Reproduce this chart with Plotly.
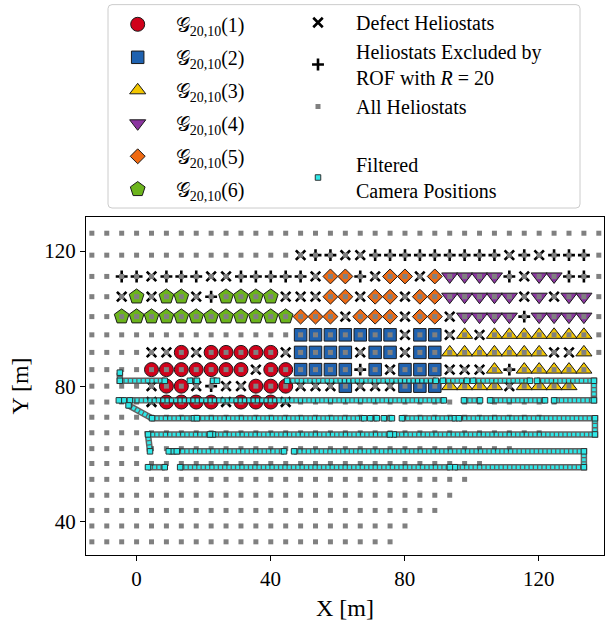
import plotly.graph_objects as go

# Heliostat field grid: column east positions [m] and row north positions [m]
col_x = [-13.35, -8.90, -4.45, 0.00, 4.45, 8.90, 13.35, 17.80, 22.25, 26.70,
         31.15, 35.60, 40.05, 44.50, 48.95, 53.40, 57.85, 62.30, 66.75, 71.20,
         75.65, 80.10, 84.55, 89.00, 93.45, 97.90, 102.35, 106.80, 111.25, 115.70,
         120.15, 124.60, 129.05, 133.50, 137.95]
row_y = [125.3, 118.8, 112.5, 106.5, 100.6, 95.2, 90.0, 84.9, 80.0, 75.3,
         70.8, 66.2, 61.5, 57.1, 52.4, 47.7, 43.2, 38.6, 33.9]
# number of heliostats in each row (counted from the western edge)
row_len = [35, 35, 35, 35, 35, 35, 35, 34, 33, 32, 31, 31, 29, 27, 26, 25, 24, 22, 21]

# members as (row index, column indices)
group1 = [(6, [6, 8, 9, 10, 11, 12]), (7, [4, 5, 6, 7, 8, 9, 10, 12, 13]),
          (8, [5, 6, 11, 12, 13]), (9, [5, 6, 7, 8, 10, 11, 12])]
group2 = [(5, [14, 15, 16, 17, 18, 19, 20, 22, 23]), (6, [14, 15, 16, 17, 19, 20, 22, 23]),
          (7, [14, 15, 16, 17, 19, 21, 22, 23]), (8, [17, 21, 22, 23])]
group3 = [(5, [25, 27, 28, 29, 30, 31, 32, 33]), (6, [24, 25, 26, 27, 28, 29, 30, 33]),
          (7, [27, 29, 30, 31, 32, 33]), (8, [24, 25, 26, 27, 29, 30, 31, 32])]
group4 = [(2, [24, 25, 26, 27, 30, 31]), (3, [24, 25, 26, 27, 28, 30, 32, 33]),
          (4, [25, 26, 27, 28, 30, 31, 32, 33])]
group5 = [(2, [16, 17, 20, 21, 23]), (3, [16, 17, 19, 20, 22, 23]),
          (4, [14, 15, 16, 18, 19, 20, 22, 23])]
group6 = [(3, [3, 5, 6, 9, 10, 11, 12]), (4, [2, 3, 4, 5, 6, 7, 8, 9, 10, 11, 12, 13])]
defect = [(1, [14, 17, 18, 28, 30]), (2, [4, 8, 9, 15, 19, 22, 29]),
          (3, [2, 4, 7, 13, 14, 15, 18, 21, 29, 31]), (4, [17, 21, 24]), (5, [21, 24, 26]),
          (6, [4, 5, 7, 13, 18, 21, 31, 32]), (7, [11, 20, 24, 25, 26]),
          (8, [4, 7, 9, 10, 14, 15, 16, 18, 19, 20, 28]), (9, [4, 9, 13])]
excluded = [(1, [15, 16, 19, 20, 21, 22, 23, 24, 25, 26, 27, 29, 31, 32, 33]),
            (2, [2, 3, 5, 6, 7, 10, 11, 12, 13, 14, 18, 28, 32, 33]),
            (3, [8]), (4, [29]), (7, [18, 28]), (8, [8])]

# filtered camera positions along the flight path (None = filtered gap)
cam_x = [-5.0, -5.0, 8.4, None, 15.9, 18.0, None, 22.8, 24.0, None,
         44.9, 89.3, None, 91.4, 98.6, None, 100.4, 117.4, None,
         119.5, 136.5, 136.5, 124.6, None, 121.9, 105.5, None, 102.5, 97.7, None,
         91.7, -2.0, None, -3.8, -5.3, None,
         -2.4, 4.6, 17.1, None, 18.0, 67.9, None, 69.7, 71.7, None, 73.8, 76.2, None,
         79.2, 95.0, None, 96.2, 136.8, 136.8, 76.8, None, 75.6, 22.8, None,
         21.9, 3.4, 4.0, None, 9.6, 11.1, None, 12.0, 44.0, None,
         47.0, 133.5, 133.5, 95.0, None, 93.5, 13.0, None, 8.4, 3.4]
cam_y = [84.0, 81.6, 81.6, None, 81.6, 81.6, None, 81.6, 81.6, None,
         81.6, 81.6, None, 81.6, 81.6, None, 81.6, 81.6, None,
         81.6, 81.6, 75.8, 75.8, None, 75.8, 75.8, None, 75.8, 75.8, None,
         75.8, 75.8, None, 75.8, 75.8, None,
         74.3, 70.5, 70.5, None, 70.5, 70.5, None, 70.5, 70.5, None, 70.5, 70.5, None,
         70.5, 70.5, None, 70.5, 70.5, 65.7, 65.7, None, 65.7, 65.7, None,
         65.7, 65.7, 60.7, None, 60.7, 60.7, None, 60.7, 60.7, None,
         60.7, 60.7, 56.0, 56.0, None, 56.0, 56.0, None, 56.0, 56.0]

group_names = ["𝒢<sub>20,10</sub>(1)", "𝒢<sub>20,10</sub>(2)", "𝒢<sub>20,10</sub>(3)",
               "𝒢<sub>20,10</sub>(4)", "𝒢<sub>20,10</sub>(5)", "𝒢<sub>20,10</sub>(6)"]
group_colors = ["#d0021b", "#1f62b0", "#f2c600", "#8b36a0", "#ef6a12", "#6cb41c"]
group_symbols = ["circle", "square", "triangle-up", "triangle-down", "diamond", "pentagon"]
group_sizes = [14, 12.5, 14, 14, 11.5, 15.5]

FONT = "Liberation Serif"


def positions(members):
    xs, ys = [], []
    for r, cols in members:
        for c in cols:
            xs.append(col_x[c])
            ys.append(row_y[r])
    return xs, ys


fig = go.Figure()

for i, members in enumerate([group1, group2, group3, group4, group5, group6]):
    gx, gy = positions(members)
    fig.add_trace(go.Scatter(
        x=gx, y=gy, mode="markers", name=group_names[i],
        legend="legend", legendgroup=f"g{i}",
        marker=dict(symbol=group_symbols[i], size=group_sizes[i], color=group_colors[i],
                    line=dict(color="#1a1a1a", width=1)),
    ))

dx, dy = positions(defect)
fig.add_trace(go.Scatter(
    x=dx, y=dy, mode="markers", name="Defect Heliostats",
    legend="legend2", legendgroup="d",
    marker=dict(symbol="x-thin", size=9.5, color="black", line=dict(color="black", width=2.6)),
))
ex, ey = positions(excluded)
fig.add_trace(go.Scatter(
    x=ex, y=ey, mode="markers", name="Heliostats Excluded by<br>ROF with <i>R</i> = 20",
    legend="legend2", legendgroup="e",
    marker=dict(symbol="cross-thin", size=8.5, color="black", line=dict(color="black", width=2.6)),
))

all_x, all_y = [], []
for r, n in enumerate(row_len):
    for c in range(n):
        all_x.append(col_x[c])
        all_y.append(row_y[r])
fig.add_trace(go.Scatter(
    x=all_x, y=all_y, mode="markers", name="All Heliostats",
    legend="legend2", legendgroup="a",
    marker=dict(symbol="square", size=5, color="#808080", line=dict(width=0)),
))

# spacer entry keeping a blank row in the second legend column
fig.add_trace(go.Scatter(
    x=[None], y=[None], mode="markers", name=" ", legend="legend2", legendgroup="s",
    marker=dict(size=1, color="rgba(0,0,0,0)"), hoverinfo="skip",
))

# camera track: dark outline, cyan dashed core, then the recorded positions
fig.add_trace(go.Scatter(
    x=cam_x, y=cam_y, mode="lines", showlegend=False, hoverinfo="skip",
    line=dict(color="rgba(45,45,45,0.75)", width=6.5),
))
fig.add_trace(go.Scatter(
    x=cam_x, y=cam_y, mode="lines", showlegend=False, hoverinfo="skip",
    line=dict(color="#2ee8e8", width=3.6, dash="3px,1.3px"),
))
fig.add_trace(go.Scatter(
    x=cam_x, y=cam_y, mode="markers", name="Filtered<br>Camera Positions",
    legend="legend2", legendgroup="c",
    marker=dict(symbol="square", size=5.5, color="#2ee8e8", line=dict(color="#303030", width=1)),
))

W, H = 609, 625
ML, MR, MT, MB = 86, 5, 216, 70
PW, PH = W - ML - MR, H - MT - MB


def px_x(p):
    return (p - ML) / PW


def px_y(p):
    return (H - MB - p) / PH


# rounded legend frame
x0, x1, y0, y1 = px_x(108), px_x(580), px_y(207), px_y(3)
rx, ry = 4 / PW, 4 / PH
frame_path = (f"M{x0 + rx},{y0} L{x1 - rx},{y0} Q{x1},{y0} {x1},{y0 + ry} "
              f"L{x1},{y1 - ry} Q{x1},{y1} {x1 - rx},{y1} L{x0 + rx},{y1} "
              f"Q{x0},{y1} {x0},{y1 - ry} L{x0},{y0 + ry} Q{x0},{y0} {x0 + rx},{y0} Z")

legend_common = dict(
    bgcolor="rgba(0,0,0,0)", borderwidth=0, font=dict(family=FONT, size=20, color="black"),
    itemwidth=66, traceorder="grouped", yanchor="top", xanchor="left", valign="middle",
    itemclick=False, itemdoubleclick=False,
)

fig.update_layout(
    width=W, height=H,
    margin=dict(l=ML, r=MR, t=MT, b=MB),
    paper_bgcolor="white", plot_bgcolor="white",
    font=dict(family=FONT, color="black"),
    legend=dict(x=px_x(99.7), y=px_y(4.8), tracegroupgap=4, **legend_common),
    legend2=dict(x=px_x(280), y=px_y(3.0), tracegroupgap=0, **legend_common),
    shapes=[dict(type="path", xref="paper", yref="paper", path=frame_path,
                 line=dict(color="#cccccc", width=1), fillcolor="rgba(255,255,255,0.8)",
                 layer="below")],
    xaxis=dict(
        range=[-15.1, 139.5], tickvals=[0, 40, 80, 120], ticks="outside", ticklen=5,
        tickwidth=1, tickcolor="black", showline=True, mirror=True, linecolor="black",
        linewidth=1.2, showgrid=False, zeroline=False,
        tickfont=dict(family=FONT, size=21),
        title=dict(text="X [m]", font=dict(family=FONT, size=24), standoff=8),
    ),
    yaxis=dict(
        range=[30.0, 130.1], tickvals=[40, 80, 120], ticks="outside", ticklen=5,
        tickwidth=1, tickcolor="black", showline=True, mirror=True, linecolor="black",
        linewidth=1.2, showgrid=False, zeroline=False,
        tickfont=dict(family=FONT, size=21),
        title=dict(text="Y [m]", font=dict(family=FONT, size=24), standoff=8),
    ),
)

fig.write_html("out.html")
